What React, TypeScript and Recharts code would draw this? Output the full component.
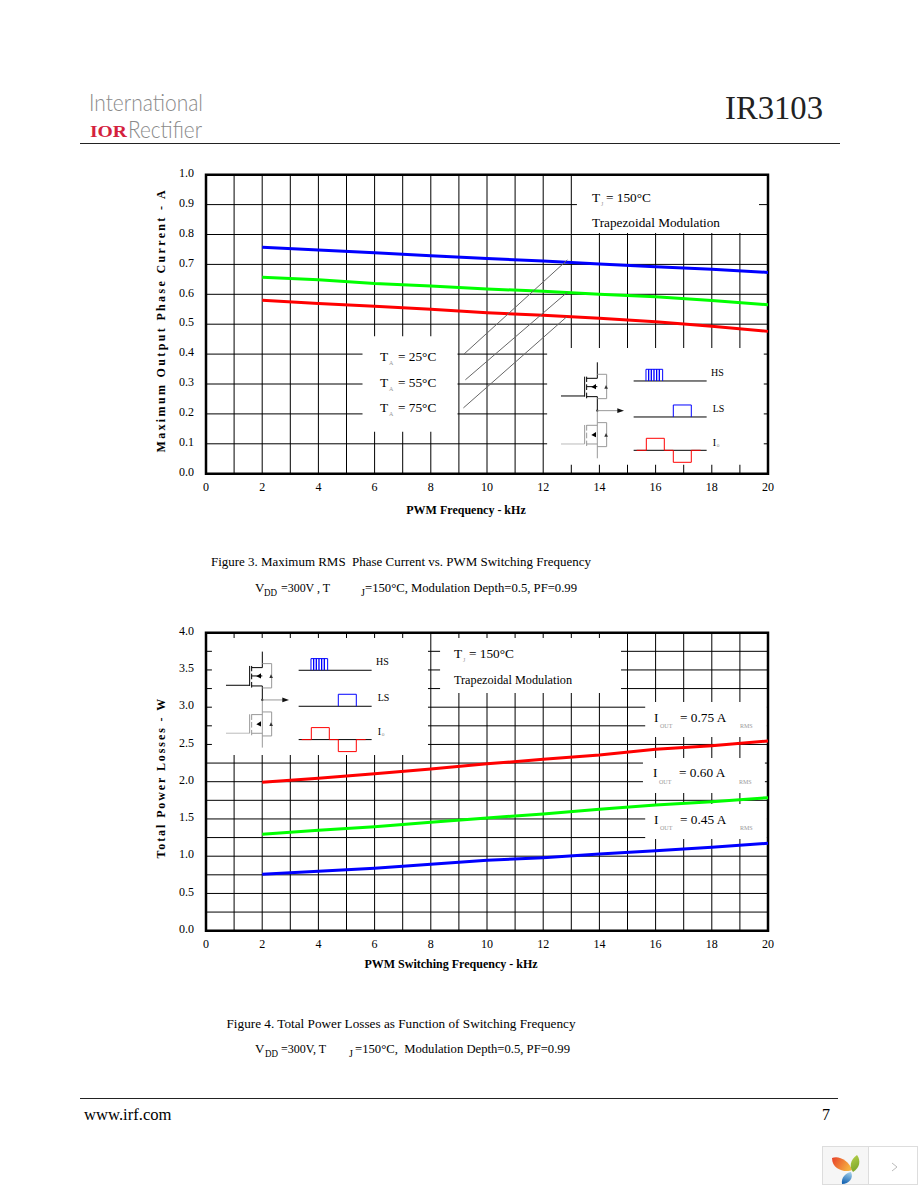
import React from "react";
import { LineChart, Line, XAxis, YAxis, CartesianGrid, ReferenceArea, ReferenceLine } from "recharts";

const freq = [2, 4, 6, 8, 10, 12, 14, 16, 18, 20];
const currentT25 = [0.757, 0.748, 0.739, 0.729, 0.72, 0.711, 0.701, 0.692, 0.684, 0.673];
const currentT55 = [0.657, 0.649, 0.636, 0.628, 0.618, 0.61, 0.6, 0.592, 0.579, 0.565];
const currentT75 = [0.58, 0.569, 0.56, 0.55, 0.538, 0.53, 0.52, 0.508, 0.493, 0.476];
const lossI075 = [1.992, 2.046, 2.108, 2.17, 2.24, 2.3, 2.358, 2.435, 2.483, 2.546];
const lossI060 = [1.294, 1.348, 1.396, 1.455, 1.513, 1.567, 1.63, 1.687, 1.732, 1.786];
const lossI045 = [0.757, 0.797, 0.837, 0.891, 0.945, 0.98, 1.03, 1.074, 1.119, 1.173];

const xTicks = [0, 2, 4, 6, 8, 10, 12, 14, 16, 18, 20];
const xGrid = [0, 1, 2, 3, 4, 5, 6, 7, 8, 9, 10, 11, 12, 13, 14, 15, 16, 17, 18, 19, 20];
const y1Ticks = [0, 0.1, 0.2, 0.3, 0.4, 0.5, 0.6, 0.7, 0.8, 0.9, 1];
const y2Ticks = [0, 0.5, 1, 1.5, 2, 2.5, 3, 3.5, 4];
const y2Grid = [0, 0.25, 0.5, 0.75, 1, 1.25, 1.5, 1.75, 2, 2.25, 2.5, 2.75, 3, 3.25, 3.5, 3.75, 4];

const data1 = freq.map((f, i) => ({ f, t25: currentT25[i], t55: currentT55[i], t75: currentT75[i] }));
const data2 = freq.map((f, i) => ({ f, i75: lossI075[i], i60: lossI060[i], i45: lossI045[i] }));

// blank callout panels, in axis units: x1, x2, y1, y2
const panels1 = [
  [13.2, 19.68, 0.805, 1],
  [5.57, 8.95, 0.14, 0.46],
  [12.14, 19.85, 0.03, 0.42],
];
const panels2 = [
  [0.21, 7.9, 2.36, 3.93],
  [8.33, 14.77, 3.19, 3.93],
  [15.63, 19.96, 2.6, 3.07],
  [15.55, 19.89, 1.848, 2.318],
  [15.63, 19.96, 1.23, 1.7],
];
// leader lines of the temperature callouts, in axis units: x1, y1, x2, y2
const leaders = [
  [9.18, 0.4, 12.86, 0.715],
  [9.23, 0.314, 12.86, 0.607],
  [9.16, 0.22, 12.84, 0.525],
];

const SERIF = "'Liberation Serif', serif";
const tick = { fontFamily: SERIF, fontSize: 12, fill: "#000" };
const yTick = { ...tick, dy: -2 };
const axisTitle = { fontFamily: SERIF, fontSize: 12, fontWeight: 700, fill: "#000" };

function Inset({ tx, ty }: { tx: number; ty: number }) {
  const pulses = [596, 604, 612, 620, 628];
  const g = "#999";
  const lg = "#ccc";
  return (
    <g transform={`translate(${tx},${ty}) scale(0.3333)`} fill="none" strokeWidth={3}>
      <path d="M333 708H404M404 650V710" stroke="#000" />
      <path d="M410 650V666M410 673V690M410 698V715" stroke="#000" />
      <path d="M442 607V655H410M410 680H442M410 710H442V750" stroke="#000" />
      <path d="M442 643H470V716H442" stroke={g} />
      <path d="M438 672L424 681L438 688Z" fill="#000" stroke="none" />
      <path d="M463 686H474L468 675Z" fill="#333" stroke="none" />
      <circle cx={442} cy={752} r={3.5} fill="#222" stroke="none" />
      <path d="M442 752H505" stroke={g} />
      <path d="M502 745L522 752L502 759Z" fill="#111" stroke="none" />
      <path d="M442 755V895" stroke={g} />
      <path d="M333 852H404" stroke={lg} strokeWidth={4} />
      <path d="M404 795V852" stroke={g} />
      <path d="M410 795V812M410 818V835M410 842V858" stroke={g} />
      <path d="M410 796H442M410 852H442" stroke={g} />
      <path d="M442 788H470V860H442" stroke={g} />
      <path d="M438 816L424 825L438 832Z" fill="#000" stroke="none" />
      <path d="M463 830H474L468 819Z" fill="#333" stroke="none" />
      <path d="M551 663H770M551 771H770M551 871H770" stroke="#000" />
      <path d="M588 663V628H638V663" stroke="#00f" />
      {pulses.map((x) => (
        <path key={x} d={`M${x} 663V628`} stroke="#00f" strokeWidth={4} />
      ))}
      <path d="M670 771V735H724V771" stroke="#00f" />
      <path d="M560 871H589V835H643V871H670V907H724V871H752" stroke="#f00" />
      <g fontFamily={SERIF} fontSize={30} fill="#000" stroke="none">
        <text x={783} y={647}>HS</text>
        <text x={788} y={755}>LS</text>
        <text x={788} y={857}>I</text>
        <text x={800} y={861} fontSize={16} fill="#888">o</text>
      </g>
    </g>
  );
}

function T({ x, y, s = 13, c = "#000", w, len, children }: any) {
  return (
    <text x={x} y={y} fontFamily={SERIF} fontSize={s} fill={c} fontWeight={w} textLength={len} lengthAdjust={len ? "spacingAndGlyphs" : undefined} style={{ whiteSpace: "pre" }}>
      {children}
    </text>
  );
}

function Sub({ x, y, main, sub, rest, restX }: any) {
  return (
    <>
      <T x={x} y={y} s={13.3}>{main}</T>
      <T x={x + 9} y={y + 4} s={6} c="#999">{sub}</T>
      <T x={restX} y={y} s={13.3}>{rest}</T>
    </>
  );
}

function Overlay() {
  return (
    <svg width={918} height={1188} style={{ position: "absolute", left: 0, top: 0, pointerEvents: "none" }}>
      <defs>
        <linearGradient id="leafA" x1="0" y1="0" x2="1" y2="0.4">
          <stop offset="0" stopColor="#e8402a" />
          <stop offset="1" stopColor="#f5b040" />
        </linearGradient>
        <linearGradient id="leafB" x1="0" y1="0" x2="0.3" y2="1">
          <stop offset="0" stopColor="#b8d24a" />
          <stop offset="1" stopColor="#7ea82a" />
        </linearGradient>
        <linearGradient id="leafC" x1="0.6" y1="0" x2="0.3" y2="1">
          <stop offset="0" stopColor="#9ccbe8" />
          <stop offset="1" stopColor="#1060b0" />
        </linearGradient>
      </defs>

      {/* header */}
      <text x={89} y={111} fontFamily="Lato, sans-serif" fontWeight={300} fontSize={24} fill="#8a8a8a" textLength={114} lengthAdjust="spacingAndGlyphs">International</text>
      <text x={90} y={137} fontFamily={SERIF} fontWeight={700} fontSize={17} fill="#d4213d" textLength={37} lengthAdjust="spacingAndGlyphs">IOR</text>
      <text x={128} y={138} fontFamily="Lato, sans-serif" fontWeight={300} fontSize={24} fill="#8a8a8a" textLength={74} lengthAdjust="spacingAndGlyphs">Rectifier</text>
      <T x={725} y={118.5} s={33} c="#222" len={98}>IR3103</T>
      <line x1={80} x2={840} y1={143.5} y2={143.5} stroke="#222" />

      {/* figure 3 annotations */}
      <Sub x={592} y={202} main="T" sub="J" rest="= 150°C" restX={606} />
      <T x={592} y={227} s={13} len={128}>Trapezoidal Modulation</T>
      <Sub x={380} y={361} main="T" sub="A" rest="= 25°C" restX={398} />
      <Sub x={380} y={387} main="T" sub="A" rest="= 55°C" restX={398} />
      <Sub x={380} y={412} main="T" sub="A" rest="= 75°C" restX={398} />
      <Inset tx={450} ty={160} />
      <T x={211} y={566} s={13} len={380}>Figure 3. Maximum RMS  Phase Current vs. PWM Switching Frequency</T>
      <T x={255} y={591.5} s={13}>V</T>
      <T x={264} y={595.5} s={10} len={13}>DD</T>
      <T x={281} y={591.5} s={13} len={49}>=300V , T</T>
      <T x={361} y={595.5} s={10}>J</T>
      <T x={365} y={591.5} s={13} len={212}>=150°C, Modulation Depth=0.5, PF=0.99</T>

      {/* figure 4 annotations */}
      <Inset tx={115} ty={449.3} />
      <Sub x={454} y={658} main="T" sub="J" rest="= 150°C" restX={469} />
      <T x={454} y={684} s={13} len={118}>Trapezoidal Modulation</T>
      <Sub x={654} y={722} main="I" sub="" rest="= 0.75 A" restX={680} />
      <T x={660} y={728} s={6} c="#999">OUT</T>
      <T x={740} y={728} s={6} c="#999">RMS</T>
      <Sub x={653} y={777} main="I" sub="" rest="= 0.60 A" restX={679} />
      <T x={659} y={784} s={6} c="#999">OUT</T>
      <T x={739} y={784} s={6} c="#999">RMS</T>
      <Sub x={654} y={824} main="I" sub="" rest="= 0.45 A" restX={680} />
      <T x={660} y={830} s={6} c="#999">OUT</T>
      <T x={740} y={830} s={6} c="#999">RMS</T>
      <T x={226.5} y={1028} s={13} len={349}>Figure 4. Total Power Losses as Function of Switching Frequency</T>
      <T x={255} y={1053} s={13}>V</T>
      <T x={265} y={1057} s={10} len={13}>DD</T>
      <T x={281} y={1053} s={13} len={45}>=300V, T</T>
      <T x={349} y={1057} s={10}>J</T>
      <T x={355} y={1053} s={13} len={215}>=150°C,  Modulation Depth=0.5, PF=0.99</T>

      {/* footer */}
      <line x1={80} x2={838} y1={1098.5} y2={1098.5} stroke="#222" />
      <T x={84} y={1119.5} s={16.5} len={87.5}>www.irf.com</T>
      <T x={822} y={1120} s={16}>7</T>

      {/* viewer widget */}
      <rect x={822.5} y={1146.5} width={95} height={38} fill="#fff" stroke="#ddd" />
      <rect x={823} y={1147} width={45} height={37} fill="#f6f6f6" />
      <line x1={868.5} x2={868.5} y1={1146} y2={1185} stroke="#ddd" />
      <path d="M832 1158C838 1155 849 1160 852 1170C846 1173 832 1170 832 1158Z" fill="url(#leafA)" />
      <path d="M857 1155C861 1160 860 1168 853 1172C849 1167 850 1160 857 1155Z" fill="url(#leafB)" />
      <path d="M851 1172C854 1178 849 1184 842 1184C841 1178 845 1173 851 1172Z" fill="url(#leafC)" />
      <path d="M892 1163L897 1167L892 1171" fill="none" stroke="#bbb" />
    </svg>
  );
}

const yTitle = (value: string, spacing: number, dy: number) => ({
  value,
  angle: -90,
  position: "insideLeft" as const,
  dx: -10,
  dy,
  style: { ...axisTitle, letterSpacing: spacing, textAnchor: "middle" as const },
});

function App() {
  return (
    <div style={{ position: "absolute", left: 0, top: 0, width: 918, height: 1188, overflow: "hidden", background: "#fff" }}>
      <div style={{ position: "absolute", left: 140, top: 160 }}>
        <LineChart width={650} height={370} data={data1} margin={{ left: 26, right: 22, top: 14.7, bottom: 26.3 }}>
          <CartesianGrid stroke="#000" strokeWidth={1} verticalValues={xGrid} horizontalValues={y1Ticks} />
          <XAxis dataKey="f" type="number" domain={[0, 20]} ticks={xTicks} tick={tick} tickLine={false} axisLine={false} height={30} tickMargin={3}
            label={{ value: "PWM Frequency - kHz", position: "insideBottom", offset: -10, dx: -21, style: axisTitle }} />
          <YAxis type="number" domain={[0, 1]} ticks={y1Ticks} tickFormatter={(v: number) => v.toFixed(1)} tick={yTick} tickLine={false} axisLine={false} width={40} tickMargin={6} interval={0}
            label={yTitle("Maximum Output Phase Current - A", 2.35, -4)} />
          <Line dataKey="t25" stroke="#0000ff" strokeWidth={3} dot={false} isAnimationActive={false} />
          <Line dataKey="t55" stroke="#00ff00" strokeWidth={3} dot={false} isAnimationActive={false} />
          <Line dataKey="t75" stroke="#ff0000" strokeWidth={3} dot={false} isAnimationActive={false} />
          {panels1.map((p, i) => (
            <ReferenceArea key={i} x1={p[0]} x2={p[1]} y1={p[2]} y2={p[3]} fill="#fff" fillOpacity={1} stroke="none" />
          ))}
          {leaders.map((l, i) => (
            <ReferenceLine key={i} segment={[{ x: l[0], y: l[1] }, { x: l[2], y: l[3] }]} stroke="#666" strokeWidth={1} />
          ))}
          <ReferenceArea x1={0} x2={20} y1={0} y2={1} fill="none" stroke="#000" strokeWidth={2.5} />
        </LineChart>
      </div>
      <div style={{ position: "absolute", left: 140, top: 620 }}>
        <LineChart width={650} height={360} data={data2} margin={{ left: 26, right: 22, top: 12.7, bottom: 19.3 }}>
          <CartesianGrid stroke="#000" strokeWidth={1} verticalValues={xGrid} horizontalValues={y2Grid} />
          <XAxis dataKey="f" type="number" domain={[0, 20]} ticks={xTicks} tick={tick} tickLine={false} axisLine={false} height={30} tickMargin={3}
            label={{ value: "PWM Switching Frequency - kHz", position: "insideBottom", offset: -7, dx: -36, style: axisTitle }} />
          <YAxis type="number" domain={[0, 4]} ticks={y2Ticks} tickFormatter={(v: number) => v.toFixed(1)} tick={yTick} tickLine={false} axisLine={false} width={40} tickMargin={6} interval={0}
            label={yTitle("Total Power Losses - W", 1.9, -4)} />
          <Line dataKey="i75" stroke="#ff0000" strokeWidth={3} dot={false} isAnimationActive={false} />
          <Line dataKey="i60" stroke="#00ff00" strokeWidth={3} dot={false} isAnimationActive={false} />
          <Line dataKey="i45" stroke="#0000ff" strokeWidth={3} dot={false} isAnimationActive={false} />
          {panels2.map((p, i) => (
            <ReferenceArea key={i} x1={p[0]} x2={p[1]} y1={p[2]} y2={p[3]} fill="#fff" fillOpacity={1} stroke="none" />
          ))}
          <ReferenceArea x1={0} x2={20} y1={0} y2={4} fill="none" stroke="#000" strokeWidth={2.5} />
        </LineChart>
      </div>
      <Overlay />
    </div>
  );
}

export default App;
